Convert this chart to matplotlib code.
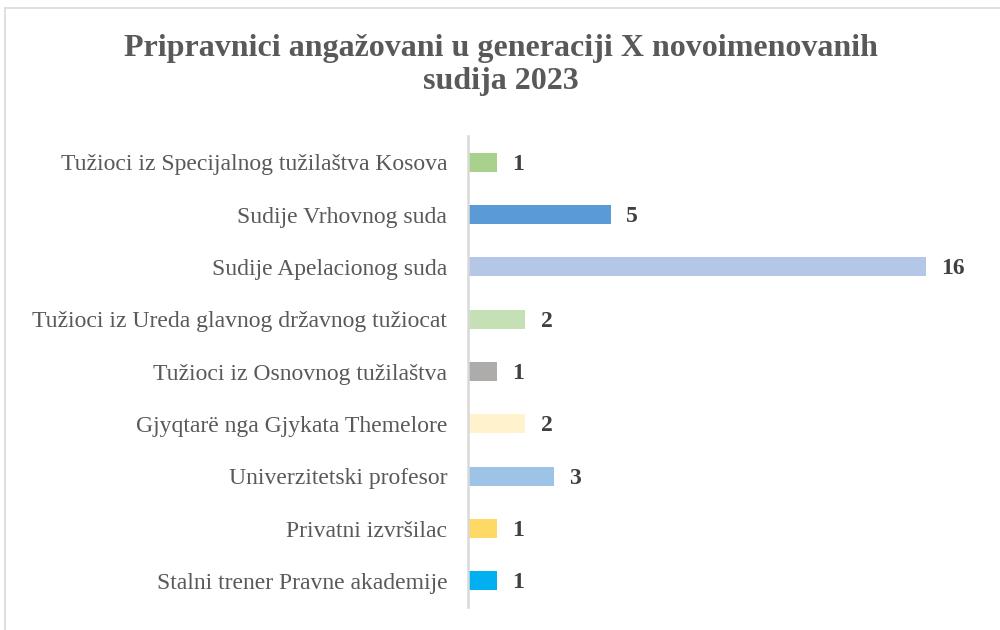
import matplotlib.pyplot as plt
from matplotlib.patches import Rectangle

# categories top to bottom
categories = [
    'Tužioci iz Specijalnog tužilaštva Kosova',
    'Sudije Vrhovnog suda',
    'Sudije Apelacionog suda',
    'Tužioci iz Ureda glavnog državnog tužiocat',
    'Tužioci iz Osnovnog tužilaštva',
    'Gjyqtarë nga Gjykata Themelore',
    'Univerzitetski profesor',
    'Privatni izvršilac',
    'Stalni trener Pravne akademije',
]
values = [1, 5, 16, 2, 1, 2, 3, 1, 1]
colors = ['#A9D18E', '#5B9BD5', '#B4C7E7', '#C5E0B4', '#AEABAB',
          '#FFF2CC', '#9DC3E6', '#FFD966', '#00B0F0']
title = 'Pripravnici angažovani u generaciji X novoimenovanih\nsudija 2023'

plt.rcParams['font.family'] = ['Liberation Serif', 'DejaVu Serif']

fig = plt.figure(figsize=(10, 6.3), dpi=100)
ax = fig.add_axes([0.468, 0.0365, 0.515, 0.7475])

ypos = list(range(len(categories)))
ax.barh(ypos, values, height=0.36, color=colors)
ax.set_yticks(ypos)
ax.set_yticklabels(categories, fontsize=17, color='#595959')
ax.set_ylim(len(categories) - 0.5, -0.5)
ax.set_xlim(0, 18)
ax.set_xticks([])
ax.tick_params(axis='y', length=0, pad=15)

for sp in ['top', 'right', 'bottom']:
    ax.spines[sp].set_visible(False)
ax.spines['left'].set_color('#D9D9D9')
ax.spines['left'].set_linewidth(1.8)

for y, v in zip(ypos, values):
    ax.annotate(str(v), (v, y), xytext=(11, -1.5), textcoords='offset points',
                va='center', ha='left', fontsize=17, fontweight='bold',
                color='#404040')

fig.text(0.501, 0.897, title, ha='center', va='center', fontsize=23,
         fontweight='bold', color='#595959', linespacing=1.15)

# chart border (partially clipped like the source)
fig.patches.append(Rectangle((0.005, -0.1), 1.2, 1.087, transform=fig.transFigure,
                             fill=False, edgecolor='#D9D9D9', linewidth=1.2))

fig.savefig('out.png', dpi=100, facecolor='white')
